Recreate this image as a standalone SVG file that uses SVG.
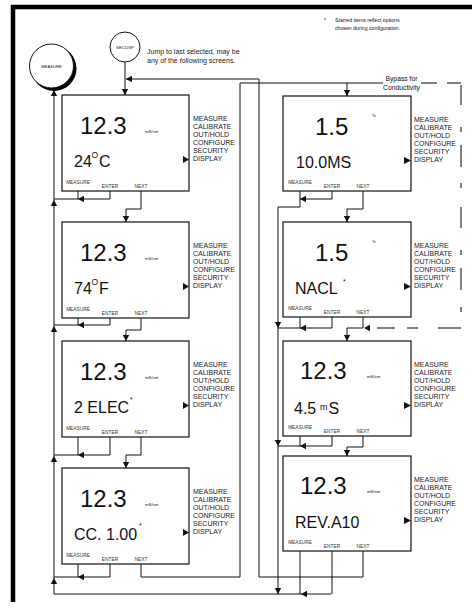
<svg xmlns="http://www.w3.org/2000/svg" width="472" height="612" viewBox="0 0 472 612">
<style>
text{font-family:"Liberation Sans",Arial,sans-serif;fill:#111}
.box{fill:#fff;stroke:#111;stroke-width:1.2}
.big{font-size:24px}
.l2{font-size:16px}
.unit{font-size:4.3px}
.menu{font-size:7px;fill:#222}
.key{font-size:4.8px;text-anchor:middle;fill:#333}
.w{fill:none;stroke:#111;stroke-width:1}
.dash{fill:none;stroke:#555;stroke-width:1.5}
.note{font-size:7px;fill:#222}
.ptr{fill:#111}
</style>
<defs>
<path id="aL" d="M0,0 L6,-3.2 L6,3.2 Z" fill="#111"/>
<path id="aD" d="M0,0 L-3.2,-6 L3.2,-6 Z" fill="#111"/>
<path id="aU" d="M0,0 L-3.2,6 L3.2,6 Z" fill="#111"/>
</defs>

<!-- frame -->
<path d="M11,7 H472 M13,5 V602" fill="none" stroke="#000" stroke-width="4.5"/>

<!-- connectors -->
<g id="connectors">
<!-- main left return line -->
<path class="w" d="M54,89 V594 H331"/>
<use href="#aU" x="54" y="90"/>
<use href="#aU" x="54" y="200"/>
<use href="#aU" x="54" y="326"/>
<use href="#aU" x="54" y="456"/>
<use href="#aU" x="54" y="578"/>
<!-- SECDSP -->
<path class="w" d="M125,62 V95"/>
<use href="#aD" x="125" y="95"/>
<path class="w" d="M259,577 V79 H126"/>
<use href="#aL" x="126" y="79"/>
<!-- box1 -->
<path class="w" d="M78,191 V199 M110,191 V199 H54 M141,191 V209 H126 V222"/>
<use href="#aL" x="78" y="199"/>
<use href="#aD" x="126" y="222"/>
<!-- box2 -->
<path class="w" d="M78,318 V325 M110,318 V325 H54 M141,318 V330 H126 V341"/>
<use href="#aL" x="78" y="325"/>
<use href="#aD" x="126" y="341"/>
<!-- box3 -->
<path class="w" d="M78,437 V455 M110,437 V455 H54 M141,437 V455 H126 V468"/>
<use href="#aL" x="78" y="455"/>
<use href="#aD" x="126" y="468"/>
<!-- box4 -->
<path class="w" d="M78,564 V577 M110,564 V577 H54 M141,564 V577 H240 V83 H383"/>
<use href="#aL" x="78" y="577"/>
<path class="w" d="M347,83 V96"/>
<use href="#aD" x="347" y="96"/>
<!-- right column return line -->
<path class="w" d="M278,207 V594"/>
<use href="#aD" x="278" y="328"/>
<use href="#aD" x="278" y="446"/>
<use href="#aD" x="278" y="594"/>
<!-- R1 -->
<path class="w" d="M300,191 V207 H278 M332,191 V199 H300 M363,191 V209 H347 V222"/>
<use href="#aL" x="300" y="199"/>
<use href="#aD" x="347" y="222"/>
<!-- R2 -->
<path class="w" d="M300,317 V328 M332,317 V328 H278 M363,317 V328 H347 V341"/>
<use href="#aL" x="300" y="328"/>
<use href="#aD" x="347" y="341"/>
<!-- R3 -->
<path class="w" d="M300,436 V446 M332,436 V446 H278 M363,436 V447 H347 V456"/>
<use href="#aL" x="300" y="446"/>
<use href="#aD" x="347" y="456"/>
<!-- R4 -->
<path class="w" d="M300,551 V594 M332,551 V594 M363,551 V577 H259"/>
<use href="#aL" x="301" y="594"/>
<!-- bypass dashed -->
<path class="dash" d="M421,83 H437 M447,83 H461 M461,85 V105 M461,127 V132 M461,145 V167 M461,183 V188 M461,207 V228 M461,250 V255 M461,268 V290 M461,307 V312 M461,328 H438 M418,328 H407 M395,328 H377"/>
<use href="#aL" x="364" y="328"/>
</g>

<!-- annotations -->
<g id="notes">
<text class="note" x="147" y="54">Jump to last selected, may be</text>
<text class="note" x="147" y="63">any of the following screens.</text>
<text x="324" y="22" style="font-size:5.2px">*</text>
<text x="335" y="22" style="font-size:5.2px">Starred items reflect options</text>
<text x="335" y="30" style="font-size:5.2px">chosen during configuration.</text>
<text x="401.5" y="81" style="font-size:6.8px;text-anchor:middle">Bypass for</text>
<text x="401.5" y="90" style="font-size:6.8px;text-anchor:middle">Conductivity</text>
</g>

<!-- MEASURE circle -->
<g id="measure-node">
<circle cx="54" cy="68.5" r="22.5" fill="#000"/>
<circle cx="51.5" cy="66" r="22" fill="#fff" stroke="#111" stroke-width="1"/>
<text x="51.5" y="67.5" style="font-size:4.2px;text-anchor:middle">MEASURE</text>
</g>

<!-- SECDSP circle -->
<g id="secdsp-node">
<circle cx="125" cy="47" r="15" fill="#fff" stroke="#111" stroke-width="1"/>
<text x="125" y="48.5" style="font-size:4.4px;text-anchor:middle">SECDSP</text>
</g>

<!-- Left column -->
<g id="screen-temp-c">
<rect class="box" x="62" y="95" width="127" height="96"/>
<text class="big" x="80" y="134">12.3</text>
<text class="unit" x="145" y="133">mS/cm</text>
<text class="l2" x="74" y="167">24</text>
<text x="91.5" y="157.5" style="font-size:8.5px">O</text>
<text class="l2" x="99" y="167">C</text>
<text class="menu" x="193" y="121">MEASURE</text>
<text class="menu" x="193" y="129">CALIBRATE</text>
<text class="menu" x="193" y="137">OUT/HOLD</text>
<text class="menu" x="193" y="145">CONFIGURE</text>
<text class="menu" x="193" y="153">SECURITY</text>
<text class="menu" x="193" y="161">DISPLAY</text>
<polygon class="ptr" points="183,156 189,159.5 183,163"/>
<text class="key" x="78" y="184">MEASURE</text>
<text class="key" x="110" y="188">ENTER</text>
<text class="key" x="141" y="188">NEXT</text>
</g>

<g id="screen-temp-f">
<rect class="box" x="62" y="222" width="127" height="96"/>
<text class="big" x="80" y="261">12.3</text>
<text class="unit" x="145" y="260">mS/cm</text>
<text class="l2" x="74" y="294">74</text>
<text x="91.5" y="284.5" style="font-size:8.5px">O</text>
<text class="l2" x="99" y="294">F</text>
<text class="menu" x="193" y="248">MEASURE</text>
<text class="menu" x="193" y="256">CALIBRATE</text>
<text class="menu" x="193" y="264">OUT/HOLD</text>
<text class="menu" x="193" y="272">CONFIGURE</text>
<text class="menu" x="193" y="280">SECURITY</text>
<text class="menu" x="193" y="288">DISPLAY</text>
<polygon class="ptr" points="183,283 189,286.5 183,290"/>
<text class="key" x="78" y="311">MEASURE</text>
<text class="key" x="110" y="315">ENTER</text>
<text class="key" x="141" y="315">NEXT</text>
</g>

<g id="screen-elec">
<rect class="box" x="62" y="341" width="127" height="96"/>
<text class="big" x="80" y="380">12.3</text>
<text class="unit" x="145" y="379">mS/cm</text>
<text class="l2" x="74" y="413">2 ELEC</text>
<text x="130" y="402" style="font-size:7px">*</text>
<text class="menu" x="193" y="367">MEASURE</text>
<text class="menu" x="193" y="375">CALIBRATE</text>
<text class="menu" x="193" y="383">OUT/HOLD</text>
<text class="menu" x="193" y="391">CONFIGURE</text>
<text class="menu" x="193" y="399">SECURITY</text>
<text class="menu" x="193" y="407">DISPLAY</text>
<polygon class="ptr" points="183,402 189,405.5 183,409"/>
<text class="key" x="78" y="430">MEASURE</text>
<text class="key" x="110" y="434">ENTER</text>
<text class="key" x="141" y="434">NEXT</text>
</g>

<g id="screen-cc">
<rect class="box" x="62" y="468" width="127" height="96"/>
<text class="big" x="80" y="507">12.3</text>
<text class="unit" x="145" y="506">mS/cm</text>
<text class="l2" x="74" y="540">CC. 1.00</text>
<text x="139" y="528" style="font-size:7px">*</text>
<text class="menu" x="193" y="494">MEASURE</text>
<text class="menu" x="193" y="502">CALIBRATE</text>
<text class="menu" x="193" y="510">OUT/HOLD</text>
<text class="menu" x="193" y="518">CONFIGURE</text>
<text class="menu" x="193" y="526">SECURITY</text>
<text class="menu" x="193" y="534">DISPLAY</text>
<polygon class="ptr" points="183,529 189,532.5 183,536"/>
<text class="key" x="78" y="557">MEASURE</text>
<text class="key" x="110" y="561">ENTER</text>
<text class="key" x="141" y="561">NEXT</text>
</g>

<!-- Right column -->
<g id="screen-pct-ms">
<rect class="box" x="283" y="96" width="128" height="95"/>
<text class="big" x="315" y="135">1.5</text>
<text class="unit" x="372" y="117">%</text>
<text class="l2" x="296" y="168">10.0MS</text>
<text class="menu" x="414" y="122">MEASURE</text>
<text class="menu" x="414" y="130">CALIBRATE</text>
<text class="menu" x="414" y="138">OUT/HOLD</text>
<text class="menu" x="414" y="146">CONFIGURE</text>
<text class="menu" x="414" y="154">SECURITY</text>
<text class="menu" x="414" y="162">DISPLAY</text>
<polygon class="ptr" points="404,157 411,160.5 404,164"/>
<text class="key" x="300" y="184">MEASURE</text>
<text class="key" x="332" y="188">ENTER</text>
<text class="key" x="363" y="188">NEXT</text>
</g>

<g id="screen-pct-nacl">
<rect class="box" x="283" y="222" width="128" height="95"/>
<text class="big" x="315" y="261">1.5</text>
<text class="unit" x="372" y="243">%</text>
<text class="l2" x="295" y="294">NACL</text>
<text x="343" y="284" style="font-size:7px">*</text>
<text class="menu" x="414" y="248">MEASURE</text>
<text class="menu" x="414" y="256">CALIBRATE</text>
<text class="menu" x="414" y="264">OUT/HOLD</text>
<text class="menu" x="414" y="272">CONFIGURE</text>
<text class="menu" x="414" y="280">SECURITY</text>
<text class="menu" x="414" y="288">DISPLAY</text>
<polygon class="ptr" points="404,283 411,286.5 404,290"/>
<text class="key" x="300" y="310">MEASURE</text>
<text class="key" x="332" y="314">ENTER</text>
<text class="key" x="363" y="314">NEXT</text>
</g>

<g id="screen-ms">
<rect class="box" x="283" y="341" width="128" height="95"/>
<text class="big" x="300" y="379">12.3</text>
<text class="unit" x="367" y="378">mS/cm</text>
<text class="l2" x="294" y="414">4.5</text>
<text x="320" y="409.5" style="font-size:9px">m</text>
<text class="l2" x="328.5" y="414">S</text>
<text class="menu" x="414" y="367">MEASURE</text>
<text class="menu" x="414" y="375">CALIBRATE</text>
<text class="menu" x="414" y="383">OUT/HOLD</text>
<text class="menu" x="414" y="391">CONFIGURE</text>
<text class="menu" x="414" y="399">SECURITY</text>
<text class="menu" x="414" y="407">DISPLAY</text>
<polygon class="ptr" points="404,402 411,405.5 404,409"/>
<text class="key" x="300" y="429">MEASURE</text>
<text class="key" x="332" y="433">ENTER</text>
<text class="key" x="363" y="433">NEXT</text>
</g>

<g id="screen-rev">
<rect class="box" x="283" y="456" width="128" height="95"/>
<text class="big" x="300" y="494">12.3</text>
<text class="unit" x="367" y="493">mS/cm</text>
<text class="l2" x="295" y="528">REV.A10</text>
<text class="menu" x="414" y="482">MEASURE</text>
<text class="menu" x="414" y="490">CALIBRATE</text>
<text class="menu" x="414" y="498">OUT/HOLD</text>
<text class="menu" x="414" y="506">CONFIGURE</text>
<text class="menu" x="414" y="514">SECURITY</text>
<text class="menu" x="414" y="522">DISPLAY</text>
<polygon class="ptr" points="404,517 411,520.5 404,524"/>
<text class="key" x="300" y="544">MEASURE</text>
<text class="key" x="332" y="548">ENTER</text>
<text class="key" x="363" y="548">NEXT</text>
</g>
</svg>
